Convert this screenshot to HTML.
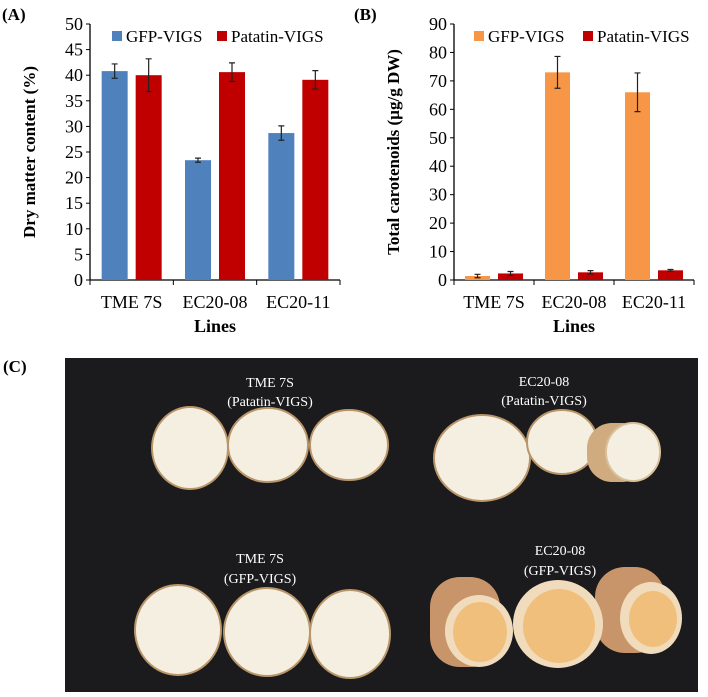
<!DOCTYPE html>
<html><head><meta charset="utf-8"><style>
body{margin:0;background:#fff;width:708px;height:692px;overflow:hidden}
svg text{font-family:"Liberation Serif",serif}
</style></head><body>
<svg id="fig" width="708" height="692">
<g id="chartA"></g>
<g id="chartB"></g>
<text x="2" y="20" font-size="17" font-weight="bold">(A)</text>
<text x="354" y="20" font-size="17" font-weight="bold">(B)</text>
<text x="3" y="372" font-size="17" font-weight="bold">(C)</text>
<g>
<rect x="65" y="358" width="633" height="334" fill="#1b1a1c"/>
<g fill="#f4efe1" stroke="#b9966a" stroke-width="2">
<ellipse cx="190" cy="448" rx="38" ry="41"/><ellipse cx="268" cy="445" rx="40" ry="37"/><ellipse cx="349" cy="445" rx="39" ry="35"/>
<ellipse cx="482" cy="458" rx="48" ry="43"/><ellipse cx="562" cy="442" rx="35" ry="32"/>
<ellipse cx="178" cy="630" rx="43" ry="45"/><ellipse cx="267" cy="632" rx="43" ry="44"/><ellipse cx="350" cy="634" rx="40" ry="44"/>
</g>
<rect x="587" y="423" width="60" height="59" rx="25" fill="#d1ab80"/>
<ellipse cx="633" cy="452" rx="27" ry="29" fill="#f4efe1" stroke="#d8c09a" stroke-width="2"/>
<g fill="#c8956a">
<rect x="430" y="577" width="70" height="90" rx="30"/><rect x="595" y="567" width="70" height="86" rx="30"/>
</g>
<g fill="#f0dcbc">
<ellipse cx="479" cy="631" rx="34" ry="36"/><ellipse cx="558" cy="624" rx="45" ry="44"/><ellipse cx="651" cy="618" rx="31" ry="36"/>
</g>
<g fill="#f1bf7c"><ellipse cx="480" cy="632" rx="27" ry="30"/><ellipse cx="559" cy="626" rx="36" ry="37"/><ellipse cx="653" cy="619" rx="24" ry="28"/></g>
<g fill="#fff" font-size="14" text-anchor="middle">
<text x="270" y="387">TME 7S</text><text x="270" y="406">(Patatin-VIGS)</text>
<text x="544" y="386">EC20-08</text><text x="544" y="405">(Patatin-VIGS)</text>
<text x="260" y="563">TME 7S</text><text x="260" y="583">(GFP-VIGS)</text>
<text x="560" y="555">EC20-08</text><text x="560" y="575">(GFP-VIGS)</text>
</g></g>
</svg>
<script>
const categories=["TME 7S","EC20-08","EC20-11"];
const aGfp=[40.8,23.4,28.7];
const aGfpErr=[1.4,0.4,1.4];
const aPat=[40.0,40.6,39.1];
const aPatErr=[3.2,1.8,1.8];
const aTicks=[0,5,10,15,20,25,30,35,40,45,50];
const bGfp=[1.4,73,66];
const bGfpErr=[0.6,5.6,6.8];
const bPat=[2.3,2.7,3.4];
const bPatErr=[0.7,0.6,0.3];
const bTicks=[0,10,20,30,40,50,60,70,80,90];
const NS="http://www.w3.org/2000/svg";
function mk(p,t,a,txt){const e=document.createElementNS(NS,t);for(const k in a)e.setAttribute(k,a[k]);if(txt!=null)e.textContent=txt;p.appendChild(e);return e;}
function chart(g,o){
 const y=v=>o.y0-(v/o.max)*(o.y0-o.y1);
 const gw=(o.x1-o.x0)/categories.length;
 const xb=(i,s)=>o.x0+gw*i+gw*0.5+(s?4:-4-o.bw);
 let ax=mk(g,'line',{x1:o.x0,y1:o.y1,x2:o.x0,y2:o.y0,stroke:'#000','stroke-width':1.3});
 
 let bx=mk(g,'line',{x1:o.x0,y1:o.y0,x2:o.x1,y2:o.y0,stroke:'#000','stroke-width':1.3});
 
 o.ticks.forEach(t=>{mk(g,'line',{x1:o.x0-4,y1:y(t),x2:o.x0,y2:y(t),stroke:'#000'});
  const l=mk(g,'text',{x:o.x0-7,y:y(t)+6,'font-size':18,'text-anchor':'end'},t);
  });
 for(let i=0;i<=categories.length;i++)mk(g,'line',{x1:o.x0+gw*i,y1:o.y0,x2:o.x0+gw*i,y2:o.y0+5,stroke:'#000'});
 categories.forEach((c,i)=>{const l=mk(g,'text',{x:o.x0+gw*(i+0.5),y:o.y0+28,'font-size':18,'text-anchor':'middle'},c);
  });
 [[o.s1,o.e1,o.c1,0],[o.s2,o.e2,o.c2,1]].forEach(([vals,errs,col,s])=>{
  vals.forEach((v,i)=>{const x=xb(i,s);
   const r=mk(g,'rect',{x:x,y:y(v),width:o.bw,height:o.y0-y(v),fill:col});
   
   const cx=x+o.bw/2,t=y(v+errs[i]),b=y(v-errs[i]);
   const e=mk(g,'path',{d:`M${cx},${t}V${b}M${cx-3},${t}H${cx+3}M${cx-3},${b}H${cx+3}`,stroke:'#222','stroke-width':1.2,fill:'none'});
   });});
 const lx=o.lx;
 mk(g,'rect',{x:lx,y:31,width:10,height:10,fill:o.c1});
 let t1=mk(g,'text',{x:lx+14,y:42,'font-size':17},'GFP-VIGS');
 mk(g,'rect',{x:o.lx2,y:31,width:10,height:10,fill:o.c2});
 let t2=mk(g,'text',{x:o.lx2+14,y:42,'font-size':17},'Patatin-VIGS');
 let yt=mk(g,'text',{x:0,y:0,'font-size':17,'font-weight':'bold','text-anchor':'middle',transform:`translate(${o.x0-55},${(o.y0+o.y1)/2}) rotate(-90)`},o.ylab);
 
 let xt=mk(g,'text',{x:(o.x0+o.x1)/2,y:o.y0+52,'font-size':18,'font-weight':'bold','text-anchor':'middle'},'Lines');
 
}
chart(document.getElementById('chartA'),{x0:90,x1:340,y0:280,y1:24,max:50,ticks:aTicks,bw:26,s1:aGfp,e1:aGfpErr,s2:aPat,e2:aPatErr,c1:'#4f81bd',c2:'#c00000',lx:112,lx2:217,ylab:'Dry matter content (%)'});
chart(document.getElementById('chartB'),{x0:454,x1:694,y0:280,y1:24,max:90,ticks:bTicks,bw:25,s1:bGfp,e1:bGfpErr,s2:bPat,e2:bPatErr,c1:'#f79646',c2:'#c00000',lx:474,lx2:583,ylab:'Total carotenoids (µg/g DW)'});
</script>
</body></html>
